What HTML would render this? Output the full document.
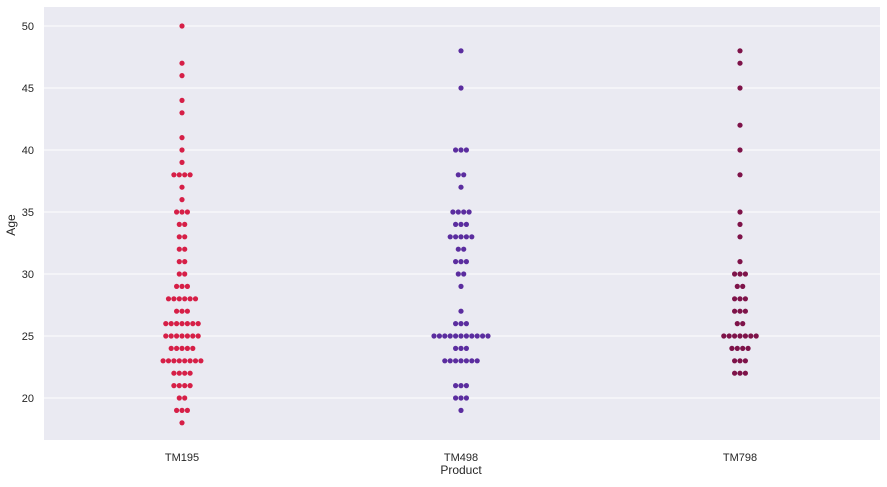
<!DOCTYPE html>
<html><head><meta charset="utf-8"><style>
body{margin:0;background:#fff;font-family:"Liberation Sans",sans-serif}
svg text{font-family:"Liberation Sans",sans-serif;fill:#262626}
</style></head><body>
<svg id="chart" width="887" height="482">
<rect x="44" y="7" width="836" height="433" fill="#eaeaf2"/>
<g id="grid"></g><g id="yticks"></g><g id="xticks"></g><g id="dots"></g>
<text x="461" y="474" text-anchor="middle" font-size="12">Product</text>
<text x="15" y="225" text-anchor="middle" font-size="12" transform="rotate(-90 15 225)">Age</text>
</svg>
<script>
const categories=["TM195","TM498","TM798"];
const colors=["#d61f47","#5b2d9f","#7e1349"];
const tm195Ages=[50,47,46,44,43,41,40,39,38,37,36,35,34,33,32,31,30,29,28,27,26,25,24,23,22,21,20,19,18];
const tm195Counts=[1,1,1,1,1,1,1,1,4,1,1,3,2,2,2,2,2,3,6,3,7,7,5,8,4,4,2,3,1];
const tm498Ages=[48,45,40,38,37,35,34,33,32,31,30,29,27,26,25,24,23,21,20,19];
const tm498Counts=[1,1,3,2,1,4,3,5,2,3,2,1,1,3,11,3,7,3,3,1];
const tm798Ages=[48,47,45,42,40,38,35,34,33,31,30,29,28,27,26,25,24,23,22];
const tm798Counts=[1,1,1,1,1,1,1,1,1,1,3,2,3,3,2,7,4,3,3];
const yTicks=[20,25,30,35,40,45,50];
const NS="http://www.w3.org/2000/svg";
const y=v=>398-(v-20)*12.4;
const x=i=>182+i*279;
function mk(t,a,p){const e=document.createElementNS(NS,t);for(const k in a)e.setAttribute(k,a[k]);p.appendChild(e);return e;}
const grid=document.getElementById('grid'),yt=document.getElementById('yticks'),xt=document.getElementById('xticks'),dots=document.getElementById('dots');
yTicks.forEach(v=>{
 const l=mk('line',{x1:44,x2:880,y1:y(v),y2:y(v),stroke:'#fff','stroke-width':1},grid);
 
 
 const t=mk('text',{x:34,y:y(v)+4,'text-anchor':'end','font-size':11},yt);t.textContent=v;
 
 
});
categories.forEach((c,i)=>{
 const t=mk('text',{x:x(i),y:461,'text-anchor':'middle','font-size':11},xt);t.textContent=c;
 
 
});
const series=[[tm195Ages,tm195Counts],[tm498Ages,tm498Counts],[tm798Ages,tm798Counts]];
series.forEach(([ages,counts],i)=>{
 ages.forEach((a,j)=>{
  const n=counts[j];
  for(let k=0;k<n;k++){
   const c=mk('circle',{cx:x(i)+(k-(n-1)/2)*5.4,cy:y(a),r:2.6,fill:colors[i]},dots);
   
   
  }
 });
});
</script>
</body></html>
